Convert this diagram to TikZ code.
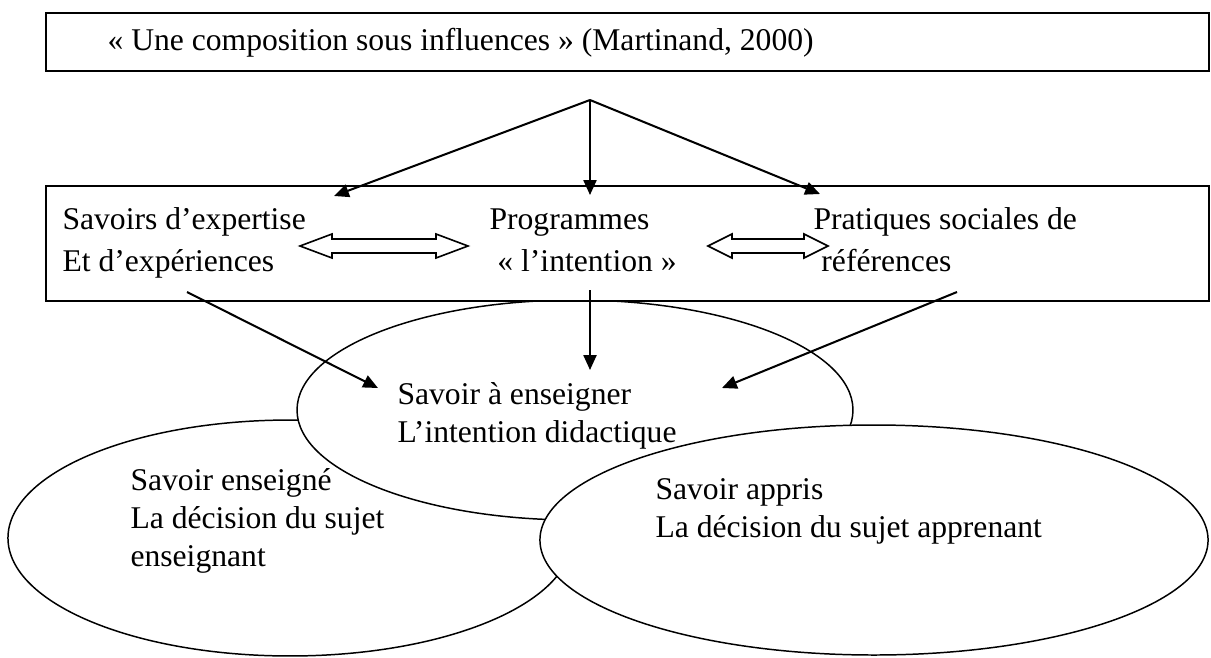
\documentclass[tikz,border=0pt]{standalone}
\usepackage{fontspec}
\setmainfont{Liberation Serif}
\usetikzlibrary{arrows.meta,shapes.geometric}
\newcommand{\arw}{-{Triangle[length=5.5pt,width=4.8pt]}}
% hollow double arrow: left tip, right tip, height, head length
\newcommand{\dblarw}[4]{%
  \draw[line width=0.6pt,fill=white] (#1,#3) -- ++(#4,-12) -- ++(0,5) -- (#2-#4,#3-7) -- ++(0,-5)
    -- (#2,#3) -- ++(-#4,12) -- ++(0,-5) -- (#1+#4,#3+7) -- ++(0,5) -- cycle;}

\begin{document}
\begin{tikzpicture}[x=0.37pt,y=-0.37pt,font=\fontsize{11.7}{13.9}\selectfont,
  txt/.style={anchor=base west,inner sep=0pt,align=left},
  oval/.style={ellipse,draw,fill=white,line width=0.55pt,inner sep=0pt},
  frame/.style={draw,fill=white,line width=0.75pt,anchor=north west,inner sep=0pt,minimum width=430.3pt}]
\useasboundingbox (0,0) rectangle (1211,657);
%the three ovals, the right one on top
\node[oval,minimum width=208.7pt,minimum height=87.3pt] (enseigne) at (290,538) {};
\node[oval,minimum width=205.7pt,minimum height=81.4pt] (aenseigner) at (575,410) {};
\node[oval,minimum width=247.2pt,minimum height=85.1pt] (appris) at (874,540) {};
%frames
\node[frame,minimum height=21.5pt] (titre) at (45,12) {};
\node[frame,minimum height=42.6pt] (cadre) at (45,185) {};
\node[txt] (martinand) at (107,50) {« Une composition sous influences » (Martinand, 2000)};
% base = last line
\node[txt,font=\fontsize{11.7}{15.5}\selectfont] (expertise) at (62,271) {Savoirs d’expertise\\Et d’expériences};
\node[txt,font=\fontsize{11.7}{15.5}\selectfont] (programmes) at (489,271) {Programmes\\\hspace*{0.25em}« l’intention »};
\node[txt,font=\fontsize{11.7}{15.5}\selectfont] (pratiques) at (813,271) {Pratiques sociales de\\\hspace*{0.25em}références};
\dblarw{300}{468}{246}{32}
\dblarw{708}{828}{246}{24}
%texts in the ovals
\node[txt] (savoiraens) at (397,442) {Savoir à enseigner\\L’intention didactique};
\node[txt] (savoirens) at (130,566) {Savoir enseigné\\La décision du sujet\\enseignant};
\node[txt] (savoirapp) at (655,537) {Savoir appris\\La décision du sujet apprenant};
%arrows
\coordinate (sommet) at (590,100);
\coordinate (vexp) at (334,196);
\coordinate (vprog) at (590,195);
\coordinate (vprat) at (820,194);
\draw[\arw,line width=0.75pt] (sommet) -- (vexp);
\draw[\arw,line width=0.75pt] (sommet) -- (vprog);
\draw[\arw,line width=0.75pt] (sommet) -- (vprat);
\coordinate (dexp) at (187,292);
\coordinate (dprog) at (590,290);
\coordinate (dprat) at (957,292);
\coordinate (aexp) at (378,388);
\coordinate (aprog) at (590,370);
\coordinate (aprat) at (722,388);
\draw[\arw,line width=0.75pt] (dexp) -- (aexp);
\draw[\arw,line width=0.75pt] (dprog) -- (aprog);
\draw[\arw,line width=0.75pt] (dprat) -- (aprat);
\end{tikzpicture}
\end{document}
